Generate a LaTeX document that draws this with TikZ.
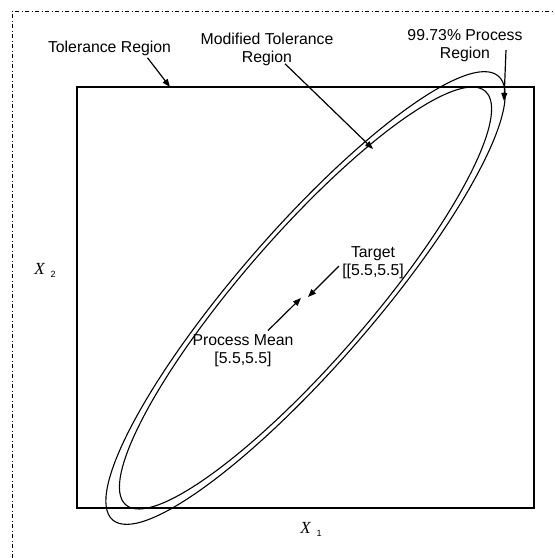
\documentclass[tikz,border=0pt]{standalone}
\usepackage{fontspec}
\setmainfont{Liberation Sans}
\newfontfamily\axisfont{Liberation Serif}
\usetikzlibrary{arrows.meta, positioning, calc}

\begin{document}
\begin{tikzpicture}[x=0.5pt, y=-0.5pt, every node/.style={font=\fontsize{7.9}{9}\selectfont, inner sep=1pt}]
    \tikzstyle{annot} = [align=center]
    \tikzstyle{pointer} = [-{Triangle[length=4pt, width=3pt]}, line width=0.6pt]
    \tikzstyle{region} = [line width=0.55pt]

    \useasboundingbox (0,0) rectangle (554,558);
    \draw[line width=0.5pt, dash pattern=on 2pt off 1.25pt on 0.5pt off 1.25pt] (12,558) -- (12,11) -- (554,11);

    % tolerance box and the two ellipses
    \draw[line width=1pt] (77,87) rectangle (534,508);
    \coordinate (mu) at (305.5,298);
    \draw[region, rotate around={49:(mu)}] (mu) ellipse [x radius=294, y radius=68];
    \draw[region, rotate around={49:(mu)}] (mu) ellipse [x radius=274, y radius=63.5];

    \node[annot] (tol) at (109.5,48) {Tolerance Region};
    \node[annot] (mod) at (267,49) {Modified Tolerance\\Region};
    \node[annot] (proc) at (465,46) {99.73\% Process\\Region};
    \node[annot] (tgt) at (373,263) {Target\\{[}[5.5,5.5]};
    \node[annot] (mean) at (243,351) {Process Mean\\{[}5.5,5.5]};

    \node (xone) at (311,529) {\axisfont\fontsize{8.5}{9}\selectfont\itshape X\hspace{3pt}\raisebox{-0.4ex}{\normalfont\fontsize{4.5}{5}\selectfont 1}};
    \node (xtwo) at (45,270) {\axisfont\fontsize{8.5}{9}\selectfont\itshape X\hspace{3pt}\raisebox{-0.4ex}{\normalfont\fontsize{4.5}{5}\selectfont 2}};

    \coordinate (tolTip) at (170,87);
    \coordinate (modTip) at (373,149);
    \coordinate (procTip) at (504,101);
    \coordinate (tgtTip) at (308,297);
    \coordinate (meanTip) at (301,298);

    \draw[pointer] ($(tol.south)+(38,0)$) -- (tolTip);
    \draw[pointer] ($(mod.south)+(18,-4)$) -- (modTip);
    \draw[pointer] ($(proc.center)+(41,4)$) -- (procTip);
    \draw[pointer] ($(tgt.center)+(-34,3)$) -- (tgtTip);
    \draw[pointer] ($(mean.north)+(25,-2)$) -- (meanTip);
\end{tikzpicture}
\end{document}
